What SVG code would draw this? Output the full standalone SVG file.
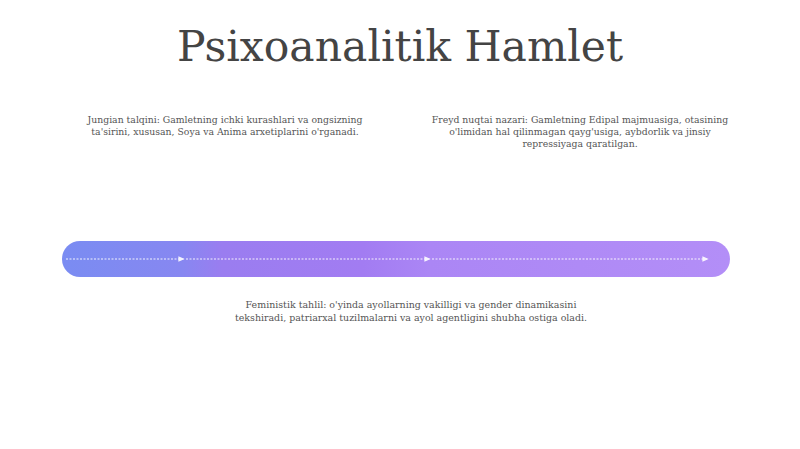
<svg xmlns="http://www.w3.org/2000/svg" width="800" height="449" viewBox="0 0 800 449">
<defs>
<linearGradient id="bar" x1="0" y1="0" x2="1" y2="0">
<stop offset="0" stop-color="#7a8cf2"/>
<stop offset="0.18" stop-color="#8787f1"/>
<stop offset="0.24" stop-color="#9a7df0"/>
<stop offset="0.45" stop-color="#a27cf2"/>
<stop offset="0.55" stop-color="#ab86f5"/>
<stop offset="1" stop-color="#b38ef7"/>
</linearGradient>
<marker id="arr" viewBox="0 0 10 10" refX="8" refY="5" markerWidth="7" markerHeight="7" orient="auto" markerUnits="userSpaceOnUse">
<path d="M0,1 L9,5 L0,9 Z" fill="#ffffff"/>
</marker>
<style>
.t{font-family:"DejaVu Serif","Liberation Serif",serif;fill:#444;text-anchor:middle;}
.s{font-size:9.3px;fill:#555;}
.f{font-size:9.45px;}
.c{stroke:#ffffff;stroke-width:1.2;stroke-dasharray:2 1.5;fill:none;opacity:0.9;}
</style>
</defs>
<rect width="800" height="449" fill="#ffffff"/>
<text class="t" x="400" y="61" font-size="42.5" fill="#3a3a3a">Psixoanalitik Hamlet</text>
<g id="timeline">
<rect x="62" y="241" width="668" height="36" rx="18" fill="url(#bar)"/>
</g>
<g id="connectors">
<line class="c" x1="66" y1="259" x2="184" y2="259" marker-end="url(#arr)"/>
<line class="c" x1="186" y1="259" x2="430" y2="259" marker-end="url(#arr)"/>
<line class="c" x1="432" y1="259" x2="708" y2="259" marker-end="url(#arr)"/>
</g>
<g id="jungian">
<text class="t s" x="225" y="123">Jungian talqini: Gamletning ichki kurashlari va ongsizning</text>
<text class="t s" x="225" y="135">ta'sirini, xususan, Soya va Anima arxetiplarini o'rganadi.</text>
</g>
<g id="freyd">
<text class="t s" x="580" y="123">Freyd nuqtai nazari: Gamletning Edipal majmuasiga, otasining</text>
<text class="t s" x="580" y="135">o'limidan hal qilinmagan qayg'usiga, aybdorlik va jinsiy</text>
<text class="t s" x="580" y="147">repressiyaga qaratilgan.</text>
</g>
<g id="feminist">
<text class="t s f" x="411" y="308">Feministik tahlil: o'yinda ayollarning vakilligi va gender dinamikasini</text>
<text class="t s f" x="411" y="321">tekshiradi, patriarxal tuzilmalarni va ayol agentligini shubha ostiga oladi.</text>
</g>
</svg>
